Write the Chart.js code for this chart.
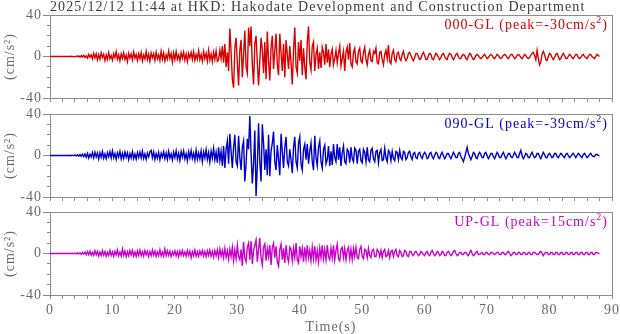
<!DOCTYPE html>
<html>
<head>
<meta charset="utf-8">
<script src="https://cdn.jsdelivr.net/npm/chart.js@4"></script>
<style>
  html, body { margin: 0; padding: 0; background: #fff; }
  #wrap { position: relative; width: 620px; height: 334px; overflow: hidden; }
  #wrap canvas { position: absolute; left: 0; }
</style>
</head>
<body>
<div id="wrap">
  <canvas id="c1" width="620" height="110" style="top:0px"></canvas>
  <canvas id="c2" width="620" height="110" style="top:99px"></canvas>
  <canvas id="c3" width="620" height="137" style="top:197px"></canvas>
</div>
<script>
// Sampling interval of the acceleration records (s)
const DT = 0.2;

const TITLE = '2025/12/12 11:44 at HKD: Hakodate Development and Construction Department';
const CHANNELS = ['000-GL', '090-GL', 'UP-GL'];
const X_LABELS = [0, 10, 20, 30, 40, 50, 60, 70, 80, 90];
const Y_LABELS = [-40, 0, 40];

// 000-GL acceleration (cm/s^2), one line = 5 s
const acc000 = [
  0,0,0,0,0, 0,0,0,0,0, 0,0,0,0,0, 0,0,0.2,-0.2,0.1, -0.3,0.4,-0.2,0.5,-0.6,
  0.8,-0.5,1.2,-1,0.6, -1.5,2,-0.8,1.6,-2.2, 3,-1.5,2.5,-3.2,1.8, -2.5,3.5,-1,2.2,-4, 1.5,-2.8,3.8,-2,0.8,
  -3.5,2.8,-1.2,4.5,-2.5, 1.6,-4.2,2.6,-1.8,3.6, -2.8,1.2,-4.8,3,-1.4, 2.4,-3.2,4.4,-1.6,1.8, -3.8,2.6,-2,3.8,-4.2,
  1.4,-2.4,4.8,-3,2.2, -4.6,3.4,-1.2,2.8,-3.6, 4.2,-2.2,1.6,-3.8,5, -2.6,3.2,-4.4,1.8,-2.4, 5.2,-1.8,2.8,-5.4,3.4,
  -3,4.6,-2.6,1.4,-4, 3.6,-1.6,4.2,-3.4,2.4, -4.8,2.8,-1.4,3.8,-2.8, 4.6,-3.6,2,-2.6,5.6, -3.2,1.8,-4.6,4.8,-2.2,
  3,-4.4,6,-3.4,2.4, -5,4.2,-2.8,5.4,-4.6, -3,6,-2,10,-6, 12,-10,4,-14,27, 4,-22,-30,8,18,
  -6,-28,6,16,-20, 2,25,-10,-16,28, 10,29,-8,-27,12, 20,-6,-28,-4,18, 6,-16,14,-22,24,
  -4,-23,8,20,-12, 6,22,-8,-18,22, 4,-14,12,-20,16, 2,-12,10,-6,-27, 6,28,-10,-16,14,
  -4,16,-18,8,-10, -22,14,29,-6,-13, 10,14,-14,2,8, -12,4,-11,9,4, -8,12,-6,7,-10,
  2,7,-8,-2,6, -6,3,10,-9,-2, 5,-14,4,9,-3, 13,-7,-10,4,8, -5,-7,5,8,-4,
  -6,4,9,-3,-8, 2,6,-4,-5,5, 3,8,-6,-7,4, 5,-3,-8,2,6, -2,11,-5,-7,3,
  6,-3,-5,3,4, -2,-4,2,5,-1, -4,-2,3,4,1, -2,-4,-1,3,3, 0,-3,-2,2,4,
  1,-3,-3,1,3, 2,-2,-3,0,3, 2,-1,-3,-1,2, 3,0,-2,-3,1, 3,2,-1,-3,-1,
  2,3,0,-2,-2, 1,2,1,-2,-3, 0,3,2,-1,-3, -2,1,2,1,-1, -2,-1,1,2,0,
  -2,-1,1,2,1, -1,-2,0,2,1, -1,-2,-1,1,2, 1,-1,-2,0,2, 2,0,-2,-1,1,
  2,1,-1,-2,0, 2,1,-1,-2,-1, 1,3,4,1,-3, 6,-2,-8,-5,2, 5,2,-3,-4,0,
  3,2,-1,-3,-1, 2,3,0,-3,-2, 1,3,1,-2,-2, 0,2,1,-1,-2, 0,2,2,-1,-2,
  -1,1,2,0,-1, -2,0,2,2,0, -1,-2,0,2,1,
  0
];

// 090-GL acceleration (cm/s^2)
const acc090 = [
  0,0,0,0,0, 0,0,0,0,0, 0,0,0,0,0, 0,0.2,-0.2,0.3,-0.3, 0.5,-0.4,0.8,-0.6,1,
  -0.8,1.2,-1,1.5,-1.6, 2,-2.4,1.2,-1.5,2.8, -2.2,3.2,-1.4,2.4,-3.4, 2.6,-1.8,3.8,-2.6,1.6, -3,2.8,-1.2,3.6,-2.4,
  4.4,-2.2,1.8,-3.6,2.6, -1.4,4,-3.2,2.2,-2.8, 3.4,-1.6,2.6,-4,1.8, -2.4,3.8,-3,1.4,-3.6, 2.8,-1.8,3.2,-2.4,4.2,
  -2.8,1.6,-3.8,2.4,-1.4, 3.6,5,-2.2,3.4,-3.8, 1.8,-2.6,3,-4.2,2.2, -1.6,3.6,-3,2.4,-3.8, 4,-2.4,1.6,-4.4,3.2,
  -2,4.6,-3.4,2.2,-4.8, 3.8,-1.6,4.4,-3.2,1.8, -5.2,3.6,-2.4,4.8,-2.8, 2.2,-4.4,5.2,-3.6,2.4, -3.2,4.4,-6,3.4,-2.4,
  5.6,-3.8,2.8,-6.4,4.2, -2.6,6.8,-4.2,3.2,-7, 8,-5,4,-10,9, -12,6,14,-8,21, 4,-12,8,20,-6,
  -10,19,-2,-14,8, 14,-25,-8,16,6, 38,2,-27,-8,24, -39,-10,31,-6,-25, 30,12,-14,6,-19,
  20,-20,4,12,23, -6,-14,10,-4,-19, 21,4,-12,8,18, -6,-10,6,-4,-17, 8,18,-6,-12,12,
  18,-8,-14,6,11, -4,11,-8,4,12, -6,-14,19,-2,-10, 8,14,-6,-12,6, 10,-8,-4,9,-10,
  4,-9,11,-2,-6, 11,-4,8,-10,3, 9,-6,-8,6,4, -7,8,-3,-6,7, 5,-8,4,6,-5,
  -7,6,3,-6,8, -4,-6,5,7,-3, -6,4,5,-7,3, 6,-5,-4,7,-2, -6,5,3,-5,4,
  -3,-5,4,3,-4, 5,-2,-4,4,3, -4,-2,3,4,-1, -4,2,3,-2,-3, 2,3,-1,-3,1,
  3,1,-3,-2,2, 3,-1,-3,0,3, 2,-2,-3,1,3, 0,-3,-1,2,2, -1,-3,0,3,1,
  -2,-2,2,3,-1, -3,-6,-2,3,8, 2,-1,-4,-1,3, 2,-2,-3,1,3, 1,-2,-2,2,3,
  0,-3,-1,2,2, -1,-3,0,3,1, -2,-2,1,3,0, -3,-1,2,2,-1, -2,0,3,1,-2,
  -2,2,5,0,-3, -1,2,1,-2,-2, 1,3,0,-2,-1, 2,2,-1,-3,0, 3,1,-2,-2,1,
  2,0,-2,-1,2, 2,-1,-2,0,2, 1,-1,-2,1,2, 0,-2,-1,1,2, 0,-2,0,2,1,
  -1,-2,1,2,0, -2,-1,1,2,0, -1,-1,1,1,0,
  0
];

// UP-GL acceleration (cm/s^2)
const accUP = [
  0,0,0,0,0, 0,0,0,0,0, 0,0,0,0,0, 0,0,0,0.2,-0.2, 0.3,-0.4,0.5,-0.3,0.6,
  -0.8,1,-0.6,1.4,-1.2, 1.8,-1,2.2,-1.6,1.2, -1.8,2.6,-1.2,2,-2.4, 1.4,-2,2.8,-1.6,1.8, -2.6,1.2,-1.8,3,-2,
  1.6,-2.8,2.2,-1.4,3.4, -2.2,1.4,-2.6,4.2,-1.8, 2.4,-3,1.6,-2.2,2.8, -1.6,3,-2.4,1.4,-2.8, 2.6,-1.8,3.2,-2.2,1.6,
  -2.6,2.8,-1.4,2.2,-3, 1.8,-2.2,3.4,-1.6,2.4, -2.8,1.6,-2,3.6,-2.4, 1.4,-2.6,4.4,-2,2.6, -1.8,2.2,-2.8,1.6,-1.4,
  2.6,-2.2,1.8,-3,2.4, -1.6,2.8,-2,1.4,-2.6, 3,-1.8,2.4,-4,1.6, -2.2,3.2,-2.6,1.8,-2.8, 2.4,-1.6,3,-2.4,2,
  -3,2.6,-1.8,3.4,-2.6, 2,-3.4,2.8,-2.2,3.6, -3.8,4.4,-2.6,3,-4, 5,-3.4,2.6,-5.6,4.2, -3,6,-6.8,3.4,-5,
  8,-3,-6,4,-12, 11,-4,-8,6,10, -6,12,-10,3,8, 13,-8,4,15,-4, -11,6,9,-7,5,
  -3,8,-11,6,10, -4,7,-8,-12,4, 9,-6,5,-9,8, -3,-8,6,4,-7, 5,-4,10,-6,-9,
  7,-3,5,-8,6, -5,8,-4,3,-7, 6,-5,7,-6,3, -8,5,-4,8,-5, 4,-6,8,-3,-6,
  5,-4,8,-6,3, 9,-5,-7,4,6, -4,5,-6,3,6, -5,4,-6,5,-3, 6,-4,-5,4,7,
  -3,-5,4,3,-4, 5,-2,-4,3,4, -3,-3,4,2,-3, 3,-4,2,4,-3, -2,3,-4,2,3,
  -3,2,4,-2,-3, 3,1,-3,-2,3, 2,-2,-3,2,2, -1,-2,1,2,0, -2,-1,2,1,-1,
  -2,1,2,-1,-2, 1,3,0,-2,-1, 2,1,-2,-1,2, 1,-2,-2,1,2, 0,-2,-1,2,3,
  0,-2,-1,1,1, -1,-1,1,1,-1, -2,1,3,0,-2, -1,1,2,-1,-1, 0,1,-1,-1,1,
  1,-1,-1,1,1, 0,-1,0,1,1, -1,-1,1,1,-1, -1,1,2,0,-2, -1,1,1,-1,-1,
  1,1,-1,-1,1, 1,-1,-1,1,1, -1,-1,1,1,0, -1,-1,1,2,0, -2,0,1,1,-1,
  -1,1,1,-1,-1, 1,1,-1,-1,1, 1,-1,-1,1,1, -1,-1,1,1,-1, -1,1,1,-1,-1,
  1,1,-1,-1,1, 1,-1,-1,1,1, -1,-1,1,1,0,
  0
];

const SERIES_COLORS = ['#d80000', '#0000c8', '#cc00cc'];
const AXIS_COLOR = '#8c8c8c';
const TEXT_COLOR = '#6a6a6a';
const TITLE_COLOR = '#3c3c3c';
const FONT = '"Liberation Serif", "Times New Roman", serif';
const FONT_SIZE = 14;

Chart.defaults.font.family = FONT;
Chart.defaults.font.size = FONT_SIZE;

// Largest absolute value in a record, keeping its sign
function peakOf(values) {
  return values.reduce((p, v) => (Math.abs(v) > Math.abs(p) ? v : p), 0);
}

// Slightly open letter spacing for every text drawn on the canvas
const textSpacing = {
  id: 'textSpacing',
  beforeDraw(chart) { chart.ctx.letterSpacing = '1px'; }
};

// Channel name with peak value in the upper right corner, and the
// event title above the first panel
const channelLabel = {
  id: 'channelLabel',
  afterDraw(chart, args, opts) {
    const { ctx, chartArea } = chart;
    ctx.save();
    if (opts.title) {
      ctx.letterSpacing = '1.1px';
      ctx.fillStyle = TITLE_COLOR;
      ctx.font = FONT_SIZE + 'px ' + FONT;
      ctx.textAlign = 'left';
      ctx.textBaseline = 'alphabetic';
      ctx.fillText(opts.title, chartArea.left, 10.5);
    }
    ctx.letterSpacing = '1px';
    ctx.fillStyle = opts.color;
    ctx.textAlign = 'right';
    ctx.textBaseline = 'alphabetic';
    const y = chartArea.top + 14;
    let x = chartArea.right - 4;
    ctx.font = FONT_SIZE + 'px ' + FONT;
    ctx.fillText(')', x, y);
    x -= ctx.measureText(')').width;
    ctx.font = '10px ' + FONT;
    ctx.fillText('2', x, y - 6);
    x -= ctx.measureText('2').width;
    ctx.font = FONT_SIZE + 'px ' + FONT;
    ctx.fillText(opts.text, x, y);
    ctx.restore();
  }
};

function makePanel(canvasId, values, name, color, showTime, xAxisHeight, title) {
  const points = values.map((v, i) => ({ x: Math.round(i * DT * 10) / 10, y: v }));
  const peak = Math.round(peakOf(values));
  return new Chart(document.getElementById(canvasId), {
    type: 'line',
    data: {
      datasets: [{
        data: points,
        borderColor: color,
        borderWidth: 1.4,
        pointRadius: 0,
        tension: 0,
        fill: false,
        xAxisID: 'x',
        yAxisID: 'y'
      }]
    },
    options: {
      responsive: false,
      animation: false,
      devicePixelRatio: 1,
      events: [],
      layout: { padding: { top: 15, left: 0, right: 8, bottom: 0 } },
      plugins: {
        legend: { display: false },
        tooltip: { enabled: false },
        channelLabel: { text: name + ' (peak=' + peak + 'cm/s', color: color, title: title }
      },
      scales: {
        x: {
          type: 'linear', position: 'bottom', min: 0, max: 90,
          ticks: {
            display: showTime, stepSize: 2, autoSkip: false, maxRotation: 0,
            padding: 3, color: TEXT_COLOR,
            callback: v => (X_LABELS.includes(v) ? String(v) : '')
          },
          grid: { drawOnChartArea: false, tickLength: 4, tickColor: AXIS_COLOR },
          border: { color: AXIS_COLOR },
          title: {
            display: showTime, text: 'Time(s)', color: TEXT_COLOR,
            font: { size: FONT_SIZE, lineHeight: 1 }, padding: 0
          },
          afterFit(s) { s.height = xAxisHeight; s.paddingLeft = 0; s.paddingRight = 0; }
        },
        xTop: {
          type: 'linear', position: 'top', min: 0, max: 90,
          ticks: { display: false },
          grid: { display: false, drawTicks: false },
          border: { color: AXIS_COLOR },
          afterFit(s) { s.height = 0; s.paddingLeft = 0; s.paddingRight = 0; }
        },
        y: {
          type: 'linear', position: 'left', min: -40, max: 40,
          ticks: {
            stepSize: 10, padding: 1, color: TEXT_COLOR, autoSkip: false,
            callback: v => (Y_LABELS.includes(v) ? String(v) : '')
          },
          grid: {
            drawOnChartArea: false, tickLength: 7, tickColor: AXIS_COLOR,
            // short minor ticks: only the part next to the axis line is stroked
            tickBorderDash: c => (c.tick && !Y_LABELS.includes(c.tick.value)) ? [0, 4, 3, 20] : []
          },
          border: { color: AXIS_COLOR },
          title: {
            display: true, text: '(cm/s²)', color: TEXT_COLOR,
            font: { size: FONT_SIZE }, padding: { top: 2, bottom: 0 }
          },
          afterFit(s) { s.width = 50; s.paddingTop = 0; s.paddingBottom = 0; }
        },
        yRight: {
          type: 'linear', position: 'right', min: -40, max: 40,
          ticks: { display: false },
          grid: { display: false, drawTicks: false },
          border: { color: AXIS_COLOR },
          afterFit(s) { s.width = 0; s.paddingTop = 0; s.paddingBottom = 0; }
        }
      }
    },
    plugins: [textSpacing, channelLabel]
  });
}

makePanel('c1', acc000, CHANNELS[0], SERIES_COLORS[0], false, 12, TITLE);
makePanel('c2', acc090, CHANNELS[1], SERIES_COLORS[1], false, 12, null);
makePanel('c3', accUP, CHANNELS[2], SERIES_COLORS[2], true, 39, null);
</script>
</body>
</html>
